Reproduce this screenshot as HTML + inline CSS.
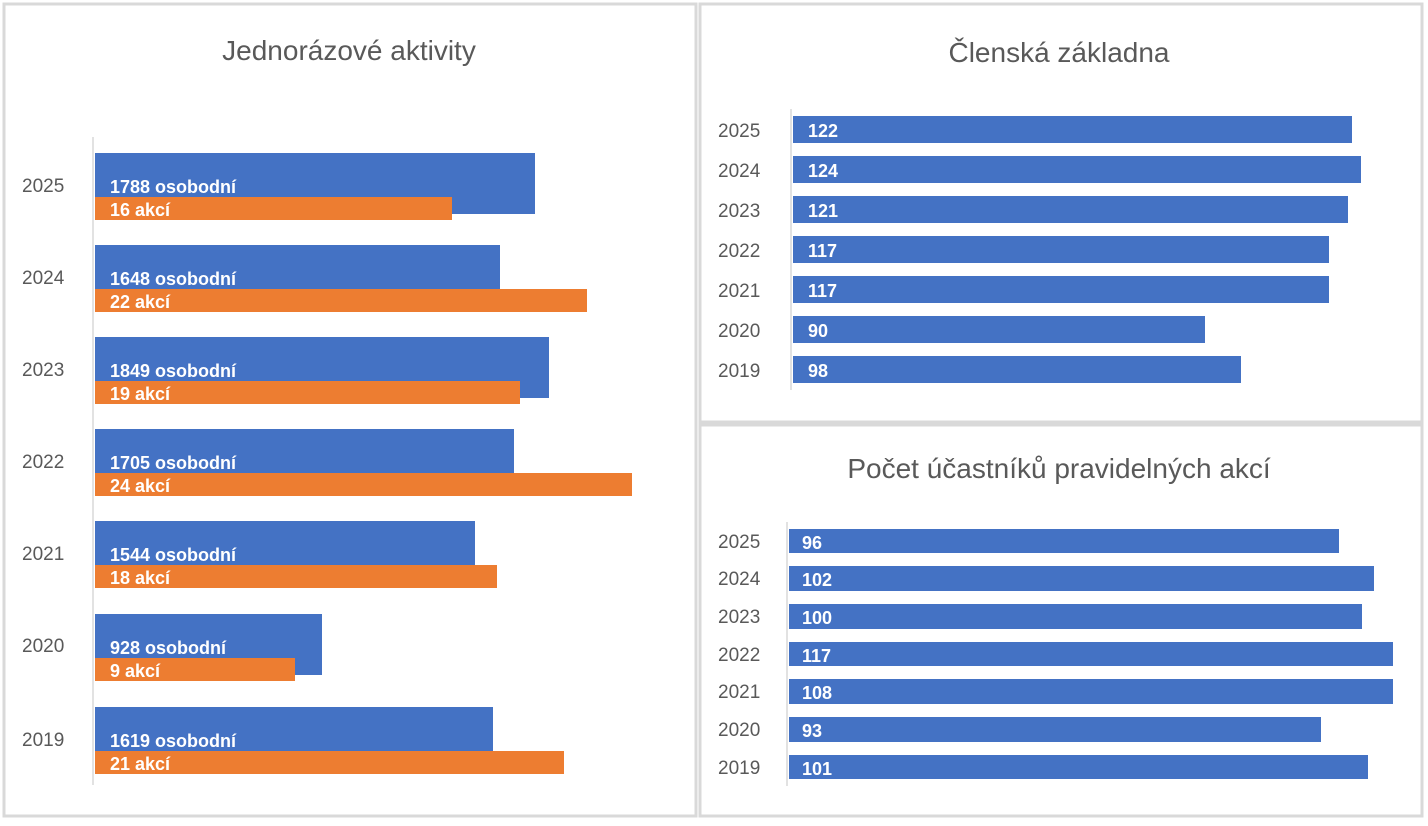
<!DOCTYPE html>
<html><head><meta charset="utf-8"><style>
body{margin:0;background:#fff;width:1428px;height:821px;overflow:hidden}
svg text{font-family:"Liberation Sans",sans-serif}
.yr{font-size:19px;fill:#595959}
.lb{font-size:18px;font-weight:bold;fill:#fff}
.tt{font-size:28px;fill:#595959}
</style></head><body>
<svg width="1428" height="821" xmlns="http://www.w3.org/2000/svg">
<rect x="0" y="0" width="1428" height="821" fill="#fff"/>
<rect x="4" y="4" width="692" height="812" fill="#fff" stroke="#d9d9d9" stroke-width="3"/>
<rect x="700" y="4" width="722" height="418" fill="#fff" stroke="#d9d9d9" stroke-width="3"/>
<rect x="700" y="425" width="722" height="391" fill="#fff" stroke="#d9d9d9" stroke-width="3"/>

<text class="tt" x="349" y="60" text-anchor="middle">Jednorázové aktivity</text>
<line x1="93" y1="137" x2="93" y2="785" stroke="#d9d9d9" stroke-width="1.5"/>
<g>
<rect x="95" y="153" width="440" height="61" fill="#4472c4"/><rect x="95" y="197" width="357" height="23" fill="#ed7d31"/>
<text class="yr" x="22" y="192">2025</text><text class="lb" x="110" y="193">1788 osobodní</text><text class="lb" x="110" y="216">16 akcí</text>
<rect x="95" y="245" width="405" height="61" fill="#4472c4"/><rect x="95" y="289" width="492" height="23" fill="#ed7d31"/>
<text class="yr" x="22" y="284">2024</text><text class="lb" x="110" y="285">1648 osobodní</text><text class="lb" x="110" y="308">22 akcí</text>
<rect x="95" y="337" width="454" height="61" fill="#4472c4"/><rect x="95" y="381" width="425" height="23" fill="#ed7d31"/>
<text class="yr" x="22" y="376">2023</text><text class="lb" x="110" y="377">1849 osobodní</text><text class="lb" x="110" y="400">19 akcí</text>
<rect x="95" y="429" width="419" height="61" fill="#4472c4"/><rect x="95" y="473" width="537" height="23" fill="#ed7d31"/>
<text class="yr" x="22" y="468">2022</text><text class="lb" x="110" y="469">1705 osobodní</text><text class="lb" x="110" y="492">24 akcí</text>
<rect x="95" y="521" width="380" height="61" fill="#4472c4"/><rect x="95" y="565" width="402" height="23" fill="#ed7d31"/>
<text class="yr" x="22" y="560">2021</text><text class="lb" x="110" y="561">1544 osobodní</text><text class="lb" x="110" y="584">18 akcí</text>
<rect x="95" y="614" width="227" height="61" fill="#4472c4"/><rect x="95" y="658" width="200" height="23" fill="#ed7d31"/>
<text class="yr" x="22" y="652">2020</text><text class="lb" x="110" y="654">928 osobodní</text><text class="lb" x="110" y="677">9 akcí</text>
<rect x="95" y="707" width="398" height="61" fill="#4472c4"/><rect x="95" y="751" width="469" height="23" fill="#ed7d31"/>
<text class="yr" x="22" y="746">2019</text><text class="lb" x="110" y="747">1619 osobodní</text><text class="lb" x="110" y="770">21 akcí</text>
</g>

<text class="tt" x="1059" y="62" text-anchor="middle">Členská základna</text>
<line x1="791" y1="109" x2="791" y2="390" stroke="#d9d9d9" stroke-width="1.5"/>
<g>
<rect x="793" y="116" width="559" height="27" fill="#4472c4"/><text class="yr" x="718" y="137">2025</text><text class="lb" x="808" y="137">122</text>
<rect x="793" y="156" width="568" height="27" fill="#4472c4"/><text class="yr" x="718" y="177">2024</text><text class="lb" x="808" y="177">124</text>
<rect x="793" y="196" width="555" height="27" fill="#4472c4"/><text class="yr" x="718" y="217">2023</text><text class="lb" x="808" y="217">121</text>
<rect x="793" y="236" width="536" height="27" fill="#4472c4"/><text class="yr" x="718" y="257">2022</text><text class="lb" x="808" y="257">117</text>
<rect x="793" y="276" width="536" height="27" fill="#4472c4"/><text class="yr" x="718" y="297">2021</text><text class="lb" x="808" y="297">117</text>
<rect x="793" y="316" width="412" height="27" fill="#4472c4"/><text class="yr" x="718" y="337">2020</text><text class="lb" x="808" y="337">90</text>
<rect x="793" y="356" width="448" height="27" fill="#4472c4"/><text class="yr" x="718" y="377">2019</text><text class="lb" x="808" y="377">98</text>
</g>

<text class="tt" x="1059" y="478" text-anchor="middle">Počet účastníků pravidelných akcí</text>
<line x1="787" y1="522" x2="787" y2="786" stroke="#d9d9d9" stroke-width="1.5"/>
<g>
<rect x="789" y="529" width="550" height="24" fill="#4472c4"/><text class="yr" x="718" y="548">2025</text><text class="lb" x="802" y="549">96</text>
<rect x="789" y="566" width="585" height="25" fill="#4472c4"/><text class="yr" x="718" y="585">2024</text><text class="lb" x="802" y="586">102</text>
<rect x="789" y="604" width="573" height="25" fill="#4472c4"/><text class="yr" x="718" y="623">2023</text><text class="lb" x="802" y="624">100</text>
<rect x="789" y="642" width="604" height="24" fill="#4472c4"/><text class="yr" x="718" y="661">2022</text><text class="lb" x="802" y="662">117</text>
<rect x="789" y="679" width="604" height="25" fill="#4472c4"/><text class="yr" x="718" y="698">2021</text><text class="lb" x="802" y="699">108</text>
<rect x="789" y="717" width="532" height="25" fill="#4472c4"/><text class="yr" x="718" y="736">2020</text><text class="lb" x="802" y="737">93</text>
<rect x="789" y="755" width="579" height="24" fill="#4472c4"/><text class="yr" x="718" y="774">2019</text><text class="lb" x="802" y="775">101</text>
</g>
</svg>
</body></html>
